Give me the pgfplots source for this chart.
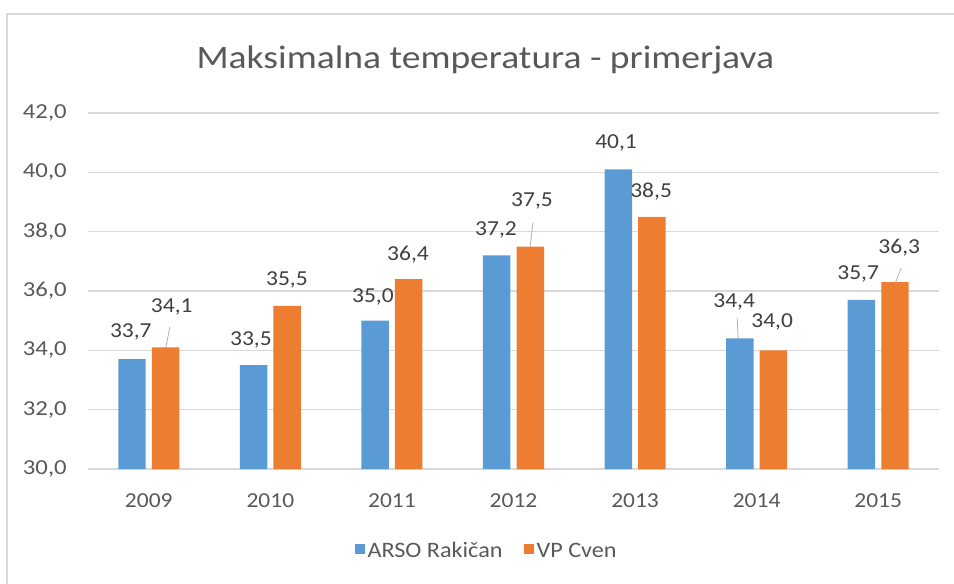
\documentclass[border=0pt]{standalone}
\usepackage{pgfplots}
\pgfplotsset{compat=1.18}
\usepackage{pgfplotstable}
\usepackage{fontspec}
\setmainfont{Carlito}[FakeStretch=1.1]
\newfontfamily\ywide{Carlito}[FakeStretch=1.16]
\newfontfamily\twide{Carlito}[FakeStretch=1.15]
\definecolor{cblue}{HTML}{5B9BD5}
\definecolor{corange}{HTML}{ED7D31}
\definecolor{ctext}{HTML}{595959}
\definecolor{clab}{HTML}{404040}
\definecolor{cgrid}{HTML}{D9D9D9}

\pgfplotstableread{
x y
0 33.7
1 33.5
2 35.0
3 37.2
4 40.1
5 34.4
6 35.7
}\arso
\pgfplotstableread{
x y
0 34.1
1 35.5
2 36.4
3 37.5
4 38.5
5 34.0
6 36.3
}\cven
\pgfplotstableread{
x y lab
-0.148 34.62 33,7
0.189 35.46 34,1
0.840 34.35 33,5
1.136 36.37 35,5
1.844 35.80 35,0
2.132 37.21 36,4
2.856 38.06 37,2
3.152 39.03 37,5
3.844 40.99 40,1
4.132 39.34 38,5
4.815 35.63 34,4
5.128 34.95 34,0
5.835 36.57 35,7
6.173 37.45 36,3
}\labels

\begin{document}
\begin{tikzpicture}
\path[use as bounding box] (-66pt,-85.5pt) rectangle (649.5pt,351.75pt);
\fill[white] (-66pt,-85.5pt) rectangle (649.5pt,351.75pt);
\draw[cgrid, line width=0.8pt] (-60.75pt,-100pt) -- (-60.75pt,341.25pt) -- (700pt,341.25pt);
\node[anchor=base, text=ctext, font=\twide\fontsize{24.5}{29}\selectfont, inner sep=0pt] at (298pt,300.75pt) {Maksimalna temperatura - primerjava};
\begin{axis}[
  at={(0pt,0pt)}, anchor=south west,
  scale only axis, width=638.25pt, height=267pt,
  xmin=-0.5, xmax=6.5, ymin=30, ymax=42,
  xtick={0,...,6}, xticklabels={2009,2010,2011,2012,2013,2014,2015},
  ytick={30,32,...,42},
  ymajorgrids, grid style={cgrid, line width=0.8pt},
  axis x line*=bottom, axis y line*=left,
  x axis line style={cgrid, line width=0.8pt, -},
  y axis line style={draw=none},
  major tick length=0pt,
  tick style={draw=none},
  ticklabel style={text=ctext, font=\fontsize{16}{19}\selectfont},
  /pgf/number format/assume math mode=true,
  yticklabel={\pgfmathprintnumber[fixed,fixed zerofill,precision=1,use comma,assume math mode=true]{\tick}},
  yticklabel style={anchor=east, xshift=-15.75pt, inner sep=0pt, font=\ywide\fontsize{16}{19}\selectfont},
  xticklabel style={anchor=base, yshift=-28.5pt, inner sep=0pt},
  legend style={at={(0.469,-0.2303)}, anchor=center, draw=none, fill=none,
    legend columns=2, font=\fontsize{16.5}{19}\selectfont, text=ctext,
    /tikz/every even column/.append style={column sep=14pt},
    legend cell align=left},
  legend image code/.code={\fill[#1] (0pt,-2.5pt) rectangle (7.5pt,5pt);},
  clip=true,
]
\addplot[ybar, bar width=20.6pt, bar shift=-12.6pt, fill=cblue, draw=none] table[x=x,y=y] {\arso};
\addlegendentry{ARSO Rakičan}
\addplot[ybar, bar width=20.6pt, bar shift=12.6pt, fill=corange, draw=none] table[x=x,y=y] {\cven};
\addlegendentry{VP Cven}
\addplot[draw=none, mark=none, forget plot, nodes near coords, point meta=explicit symbolic,
  nodes near coords style={anchor=center, inner sep=0pt, text=clab, font=\fontsize{16}{19}\selectfont}]
  table[x=x,y=y,meta=lab] {\labels};
\draw[gray!60, line width=0.6pt] (axis cs:0.140,34.08) -- (axis cs:0.173,34.79);
\draw[gray!60, line width=0.6pt] (axis cs:3.136,37.48) -- (axis cs:3.160,38.29);
\draw[gray!60, line width=0.6pt] (axis cs:4.848,34.42) -- (axis cs:4.840,35.09);
\draw[gray!60, line width=0.6pt] (axis cs:6.140,36.27) -- (axis cs:6.189,36.77);
\end{axis}
\end{tikzpicture}
\end{document}
